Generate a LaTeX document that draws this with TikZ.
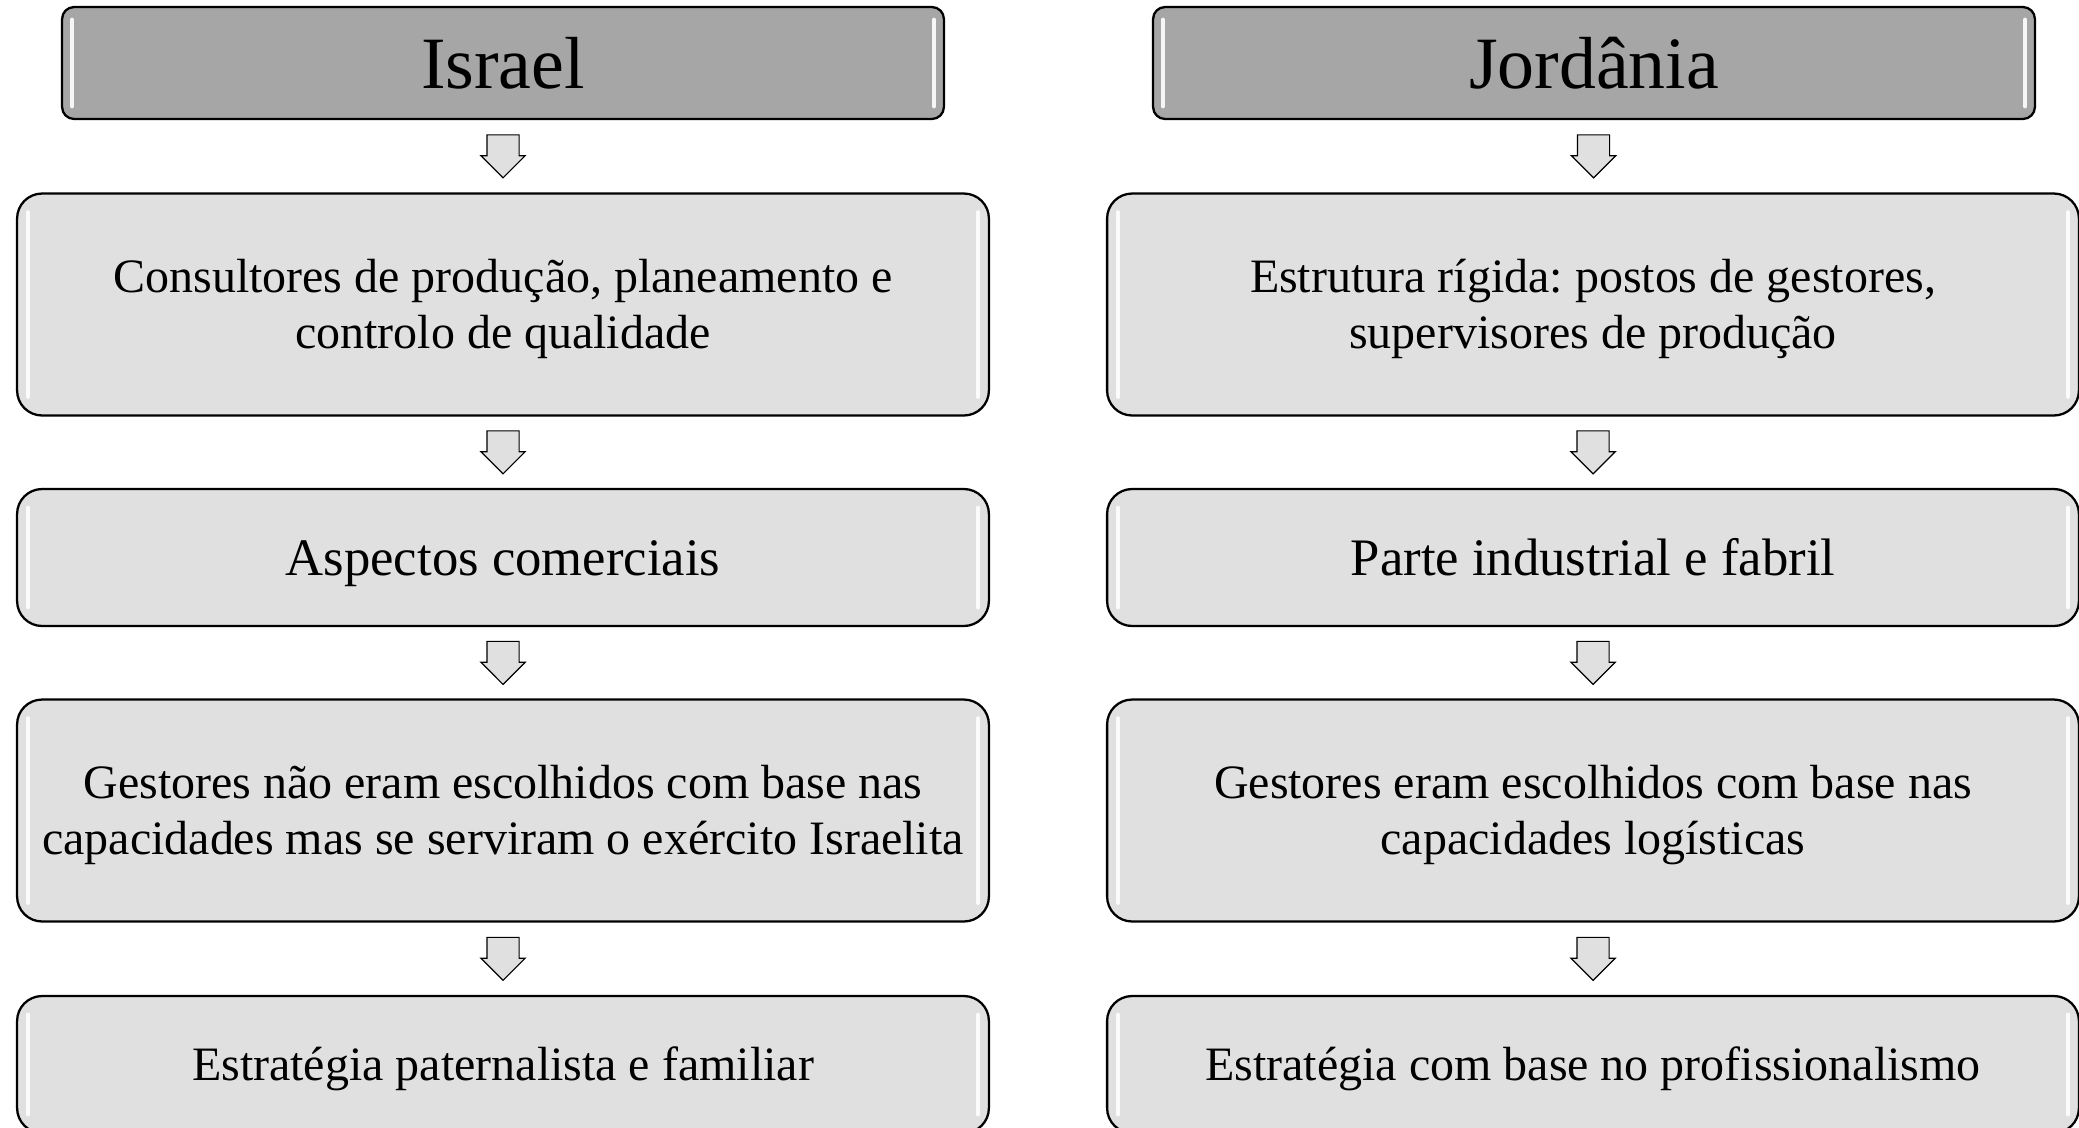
\documentclass[tikz,border=0pt]{standalone}
\usepackage{fontspec}
\setmainfont{Liberation Serif}
\frenchspacing
\usetikzlibrary{shapes.arrows,calc}
\definecolor{headgray}{HTML}{A6A6A6}
\definecolor{boxgray}{HTML}{E0E0E0}
\newcommand{\wstrut}{\rule[-0.216em]{0pt}{1.107em}}
\newcommand{\lines}[1]{\wstrut#1\wstrut}
\tikzset{
  head/.style   = {draw=black, line width=1.3pt, fill=headgray, rounded corners=0.24cm,
                   minimum width=17.64cm, minimum height=2.24cm,
                   font=\fontsize{42}{46}\selectfont},
  stage/.style  = {draw=black, line width=1.3pt, fill=boxgray, rounded corners=0.5cm,
                   minimum width=19.44cm, align=center, inner sep=0pt,
                   font=\fontsize{27.3}{31.7}\selectfont},
  tall/.style   = {stage, minimum height=4.44cm},
  short/.style  = {stage, minimum height=2.74cm},
  big/.style    = {short, font=\fontsize{30}{34}\selectfont},
  downarrow/.style = {single arrow, draw=black, line width=0.7pt, fill=boxgray,
                   rotate=-90, minimum height=0.86cm, minimum width=0.86cm,
                   inner xsep=0pt, inner ysep=0.31cm, single arrow head extend=0.12cm,
                   anchor=tail},
  gloss/.style  = {white, line width=2.6pt, line cap=round, opacity=0.9}
}
\begin{document}
\begin{tikzpicture}[x=0.02cm, y=-0.02cm]
  \useasboundingbox (0,0) rectangle (2079,1127);
  % Israel
  \node[head]  (hl) at (503,63)    {Israel};
  \node[tall]  (l1) at (503,304.5) {\lines{Consultores de produção, planeamento e\\controlo de qualidade}};
  \node[big]   (l2) at (503,557.5) {\lines{Aspectos comerciais}};
  \node[tall]  (l3) at (503,810.5) {\lines{Gestores não eram escolhidos com base nas\\capacidades mas se serviram o exército Israelita}};
  \node[short] (l4) at (503,1064.5) {\lines{Estratégia paternalista e familiar}};
  % Jordania
  \node[head]  (hr) at (1594,63)    {Jordânia};
  \node[tall]  (r1) at (1593,304.5) {\lines{Estrutura rígida: postos de gestores,\\supervisores de produção}};
  \node[big]   (r2) at (1593,557.5) {\lines{Parte industrial e fabril}};
  \node[tall]  (r3) at (1593,810.5) {\lines{Gestores eram escolhidos com base nas\\capacidades logísticas}};
  \node[short] (r4) at (1593,1064.5) {\lines{Estratégia com base no profissionalismo}};
  % arrows
  \foreach \a/\b in {hl/l1,l1/l2,l2/l3,l3/l4,hr/r1,r1/r2,r2/r3,r3/r4}
    \node[downarrow] (arr-\a) at ($(\a.south)!0.5!(\b.north)+(0,-22)$) {};
  % highlights
  \foreach \n in {hl,hr}{
    \draw[gloss] ($(\n.north west)+(11,14)$) -- ($(\n.south west)+(11,-14)$);
    \draw[gloss] ($(\n.north east)+(-11,14)$) -- ($(\n.south east)+(-11,-14)$);
  }
  \foreach \n in {l1,l2,l3,l4,r1,r2,r3,r4}{
    \draw[gloss] ($(\n.north west)+(12,20)$) -- ($(\n.south west)+(12,-20)$);
    \draw[gloss] ($(\n.north east)+(-12,20)$) -- ($(\n.south east)+(-12,-20)$);
  }
\end{tikzpicture}
\end{document}
